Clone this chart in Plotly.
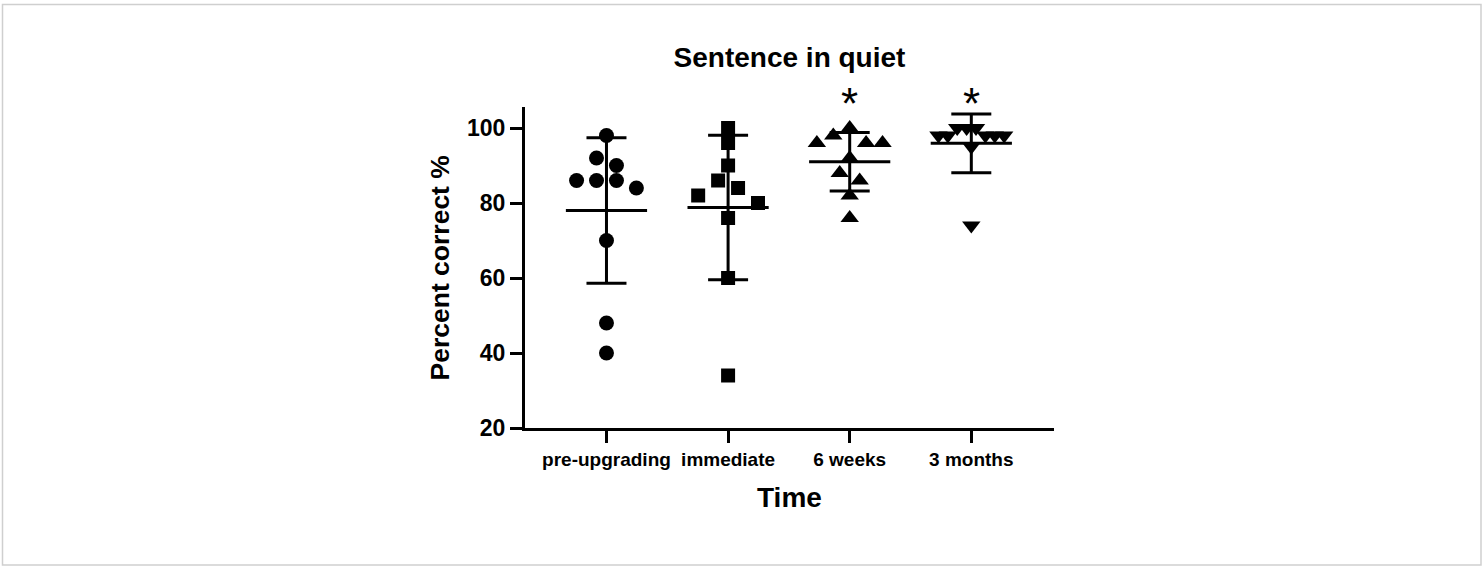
import numpy as np
import plotly.graph_objects as go

# ---- data ----
categories = ["pre-upgrading", "immediate", "6 weeks", "3 months"]
pre_upgrading = [98, 92, 90, 86, 86, 86, 84, 70, 48, 40]
immediate = [100, 96, 90, 86, 84, 82, 80, 76, 60, 34]
six_weeks = [100, 98, 96, 96, 96, 92, 88, 86, 82, 76]
three_months = [100, 100, 100, 98, 98, 98, 98, 98, 95, 74]
significance = ["", "", "*", "*"]
y_ticks = [20, 40, 60, 80, 100]

groups = [pre_upgrading, immediate, six_weeks, three_months]
symbols = ["circle", "square", "triangle-up", "triangle-down"]
marker_sizes = [15, 14, 16, 16]

FONT = "Liberation Sans, Arial, sans-serif"
BLACK = "#000000"


def swarm_offsets(values, tol=2.0, step=0.164, max_half=0.27):
    """Group nearly equal values into rows and spread each row horizontally
    (centre-out, highest values nearest the centre), like a scatter dot plot."""
    order = sorted(range(len(values)), key=lambda i: -values[i])
    rows, cur = [], [order[0]]
    for i in order[1:]:
        if values[cur[-1]] - values[i] <= tol:
            cur.append(i)
        else:
            rows.append(cur)
            cur = [i]
    rows.append(cur)
    offs = [0.0] * len(values)
    for row in rows:
        n = len(row)
        if n == 1:
            continue
        st = min(step, 2 * max_half / (n - 1))
        pos = [(k - (n - 1) / 2) * st for k in range(n)]
        pos = sorted(pos, key=lambda p: (abs(p), p))
        for idx, p in zip(row, pos):
            offs[idx] = p
    return offs


fig = go.Figure()

for gi, (vals, sym, ms) in enumerate(zip(groups, symbols, marker_sizes)):
    offs = swarm_offsets(vals)
    fig.add_trace(go.Scatter(
        x=[gi + o for o in offs], y=vals, mode="markers",
        marker=dict(symbol=sym, size=ms, color=BLACK, line=dict(width=0)),
        showlegend=False, hoverinfo="y"))

means = [float(np.mean(g)) for g in groups]
sds = [float(np.std(g, ddof=1)) for g in groups]
fig.add_trace(go.Scatter(
    x=list(range(len(categories))), y=means, mode="markers",
    marker=dict(symbol="line-ew", size=58, color=BLACK,
                line=dict(width=3, color=BLACK)),
    error_y=dict(type="data", array=sds, visible=True, thickness=3,
                 width=20, color=BLACK),
    showlegend=False, hoverinfo="y"))

annotations = []
for gi, s in enumerate(significance):
    if s:
        annotations.append(dict(
            x=gi, y=1, xref="x", yref="paper", text=s, showarrow=False,
            font=dict(family=FONT, size=44, color=BLACK),
            xanchor="center", yanchor="middle", yshift=4))

annotations.append(dict(
    x=0.5, y=-0.215, xref="paper", yref="paper", text="Time", showarrow=False,
    font=dict(family=FONT, size=28, color=BLACK, weight="bold"),
    xanchor="center", yanchor="middle"))
annotations.append(dict(
    x=-0.1607, y=0.5, xref="paper", yref="paper", text="Percent correct %",
    showarrow=False, textangle=-90,
    font=dict(family=FONT, size=26.5, color=BLACK, weight="bold"),
    xanchor="center", yanchor="middle"))

# light grey frame around the whole figure
L, T, W, H = 525, 107, 529, 321
def px_x(p):
    return (p - L) / W
def px_y(p):
    return (T + H - p) / H

fig.update_layout(
    width=1483, height=566,
    margin=dict(l=L, r=1483 - L - W, t=T, b=566 - T - H, pad=0),
    paper_bgcolor="white", plot_bgcolor="white",
    title=dict(text="Sentence in quiet", x=0.5, xref="paper", xanchor="center",
               y=1 - 57 / 566, yref="container", yanchor="middle",
               font=dict(family=FONT, size=28, color=BLACK, weight="bold")),
    xaxis=dict(range=[-0.67, 3.68], tickmode="array",
               tickvals=list(range(len(categories))), ticktext=categories,
               showline=True, linecolor=BLACK, linewidth=3,
               ticks="outside", ticklen=12, tickwidth=3, tickcolor=BLACK,
               showgrid=False, zeroline=False,
               tickfont=dict(family=FONT, size=19, color=BLACK, weight="bold")),
    yaxis=dict(range=[20, 105.6], tickmode="array", tickvals=y_ticks,
               showline=True, linecolor=BLACK, linewidth=3,
               ticks="outside", ticklen=12, tickwidth=3, tickcolor=BLACK,
               showgrid=False, zeroline=False,
               tickfont=dict(family=FONT, size=23, color=BLACK, weight="bold")),
    annotations=annotations,
    shapes=[dict(type="rect", xref="paper", yref="paper",
                 x0=px_x(2.5), x1=px_x(1481), y0=px_y(565), y1=px_y(4.5),
                 line=dict(color="#cfcfcf", width=1.5), layer="below")],
)

fig.write_html("out.html")
